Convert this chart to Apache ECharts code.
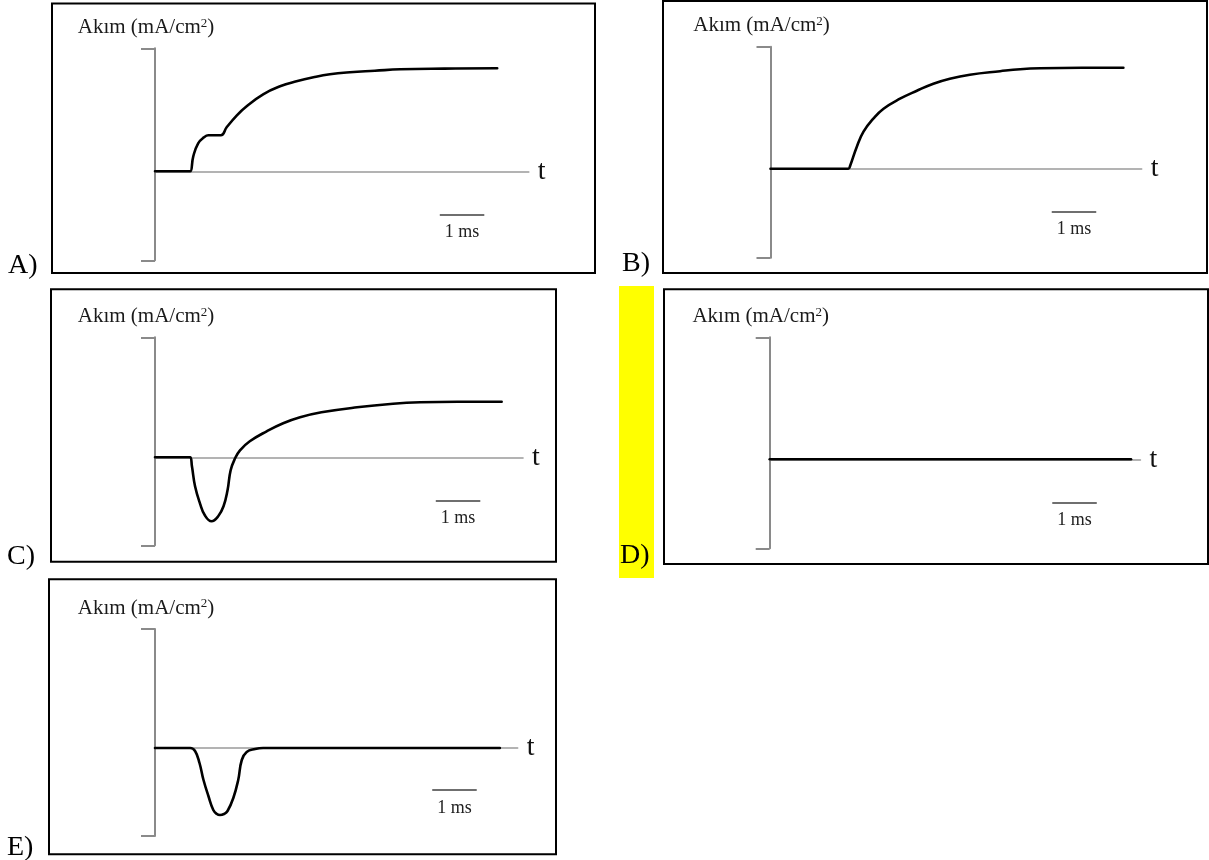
<!DOCTYPE html>
<html>
<head>
<meta charset="utf-8">
<script src="https://cdn.jsdelivr.net/npm/echarts@6/dist/echarts.min.js"></script>
<style>
  html, body { margin: 0; padding: 0; background: #ffffff; }
  #chart { width: 1209px; height: 860px; }
</style>
</head>
<body>
<div id="chart"></div>
<script>
// Membrane current traces, time in ms, current in arbitrary mA/cm² units
const panelKeys = ['A', 'B', 'C', 'D', 'E'];

const traceA = [[0, 0], [0.72, 0], [0.79, 0], [0.86, 0.15], [0.97, 0.28], [1.10, 0.34], [1.20, 0.36],
  [1.48, 0.36], [1.61, 0.44], [1.84, 0.56], [2.06, 0.65], [2.43, 0.77], [2.81, 0.85], [3.18, 0.90],
  [3.56, 0.94], [3.93, 0.97], [4.38, 0.99], [4.94, 1.005], [5.51, 1.02], [6.50, 1.027], [7.69, 1.03]];

const traceB = [[0, 0], [1.68, 0], [1.75, 0], [1.79, 0.03], [1.94, 0.22], [2.09, 0.37], [2.31, 0.50],
  [2.54, 0.60], [2.91, 0.70], [3.29, 0.78], [3.66, 0.85], [4.03, 0.90], [4.48, 0.94], [5.16, 0.975],
  [5.61, 0.995], [6.06, 1.005], [7.00, 1.01], [7.93, 1.01]];

const traceC = [[0, 0], [0.72, 0], [0.79, 0], [0.83, -0.09], [0.90, -0.29], [1.01, -0.46], [1.12, -0.58],
  [1.27, -0.64], [1.42, -0.59], [1.54, -0.49], [1.63, -0.33], [1.70, -0.13], [1.80, -0.01], [1.91, 0.07],
  [2.13, 0.16], [2.51, 0.26], [2.88, 0.34], [3.26, 0.40], [3.74, 0.45], [4.54, 0.50], [5.35, 0.535],
  [5.96, 0.55], [6.80, 0.556], [7.79, 0.556]];

const traceD = [[0, 0], [8.12, 0]];

const traceE = [[0, 0], [0.72, 0], [0.79, 0], [0.90, -0.03], [1.00, -0.15], [1.09, -0.32], [1.20, -0.48],
  [1.31, -0.62], [1.39, -0.66], [1.46, -0.67], [1.55, -0.66], [1.63, -0.63], [1.76, -0.50], [1.87, -0.32],
  [1.95, -0.12], [2.06, -0.04], [2.25, -0.01], [2.43, 0], [5.00, 0], [7.75, 0]];

const traces = [traceA, traceB, traceC, traceD, traceE];

// 1 ms scale bar: start time and current level
const scaleBarStart = [[6.40, -0.43], [6.32, -0.43], [6.31, -0.43], [6.35, -0.43], [6.23, -0.42]];
const scaleBarLength = 1;

// Axis extents per panel
const timeMax = [8.40, 8.34, 8.27, 8.33, 8.15];
const currentMin = [-0.89, -0.89, -0.88, -0.89, -0.88];
const currentMax = [1.23, 1.22, 1.20, 1.22, 1.19];

// Texts
const currentTitle = 'Akım (mA/cm{sup|2})';
const timeTitle = 't';
const scaleBarText = '1 ms';
const panelLetters = ['A)', 'B)', 'C)', 'D)', 'E)'];

// Layout (pixels)
const PX_PER_MS = 44.5;
const PX_PER_UNIT = 100;
const gridOrigin = [[155, 48.3], [770.5, 46.7], [155, 337.3], [769.7, 337.3], [155, 629]];
const frameRects = [[52, 3.5, 543, 269.5], [663, 1, 544, 272], [51, 289.3, 505, 272.4],
  [664, 289.3, 544, 274.7], [49, 579.3, 507, 275]];
const letterPos = [[8, 266], [622, 264], [7, 557], [620, 556], [7, 848]];

const SERIF = '"Liberation Serif", "Times New Roman", Times, serif';

const grids = [], xAxes = [], yAxes = [], series = [];

panelKeys.forEach(function (key, i) {
  grids.push({
    left: gridOrigin[i][0],
    top: gridOrigin[i][1],
    width: timeMax[i] * PX_PER_MS,
    height: (currentMax[i] - currentMin[i]) * PX_PER_UNIT,
    containLabel: false,
    outerBoundsMode: 'none'
  });

  xAxes.push({
    gridIndex: i,
    type: 'value',
    min: 0,
    max: timeMax[i],
    axisLine: { show: true, onZero: true, lineStyle: { color: '#9a9a9a', width: 1.6 } },
    axisTick: { show: false },
    axisLabel: { show: false },
    splitLine: { show: false },
    name: timeTitle,
    nameLocation: 'end',
    nameGap: 9,
    nameTextStyle: { fontFamily: SERIF, fontSize: 28, color: '#111', verticalAlign: 'middle' }
  });

  yAxes.push({
    gridIndex: i,
    type: 'value',
    min: currentMin[i],
    max: currentMax[i],
    axisLine: { show: true, onZero: false, lineStyle: { color: '#8a8a8a', width: 2 } },
    axisTick: {
      show: true,
      customValues: [currentMin[i], currentMax[i]],
      length: 14,
      inside: false,
      lineStyle: { color: '#8a8a8a', width: 2 }
    },
    axisLabel: { show: false },
    splitLine: { show: false },
    name: currentTitle,
    nameLocation: 'end',
    nameGap: 21,
    nameTextStyle: {
      fontFamily: SERIF,
      fontSize: 21,
      color: '#1a1a1a',
      align: 'center',
      verticalAlign: 'middle',
      padding: [0, 18, 0, 0],
      rich: {
        sup: { fontFamily: SERIF, fontSize: 13, color: '#1a1a1a', verticalAlign: 'top', padding: [0, 0, 7, 0] }
      }
    }
  });

  // current trace
  series.push({
    type: 'line',
    xAxisIndex: i,
    yAxisIndex: i,
    data: traces[i],
    symbol: 'none',
    smooth: 0.45,
    lineStyle: { color: '#000', width: 2.6, join: 'round', cap: 'round' },
    silent: true,
    animation: false,
    z: 3
  });

  // 1 ms scale bar
  const s = scaleBarStart[i];
  series.push({
    type: 'lines',
    coordinateSystem: 'cartesian2d',
    xAxisIndex: i,
    yAxisIndex: i,
    data: [{ coords: [[s[0], s[1]], [s[0] + scaleBarLength, s[1]]] }],
    lineStyle: { color: '#6f6f6f', width: 2, opacity: 1, curveness: 0 },
    label: {
      show: true,
      position: 'insideMiddleBottom',
      formatter: scaleBarText,
      fontFamily: SERIF,
      fontSize: 18,
      color: '#222',
      distance: 9
    },
    silent: true,
    animation: false
  });
});

const graphics = [];
// highlight behind the answer letter D
graphics.push({
  type: 'rect', shape: { x: 619, y: 286, width: 35, height: 292 },
  style: { fill: '#ffff00' }, silent: true, z: 0
});
frameRects.forEach(function (r) {
  graphics.push({
    type: 'rect', shape: { x: r[0], y: r[1], width: r[2], height: r[3] },
    style: { fill: 'none', stroke: '#000', lineWidth: 2 }, silent: true, z: 1
  });
});
panelLetters.forEach(function (t, i) {
  graphics.push({
    type: 'text', x: letterPos[i][0], y: letterPos[i][1],
    style: { text: t, fontFamily: SERIF, fontSize: 28, fill: '#000', align: 'left', verticalAlign: 'middle' },
    silent: true, z: 2
  });
});

const chart = echarts.init(document.getElementById('chart'), null, { renderer: 'canvas' });
chart.setOption({
  animation: false,
  backgroundColor: '#ffffff',
  grid: grids,
  xAxis: xAxes,
  yAxis: yAxes,
  series: series,
  graphic: { elements: graphics }
});
</script>
</body>
</html>
